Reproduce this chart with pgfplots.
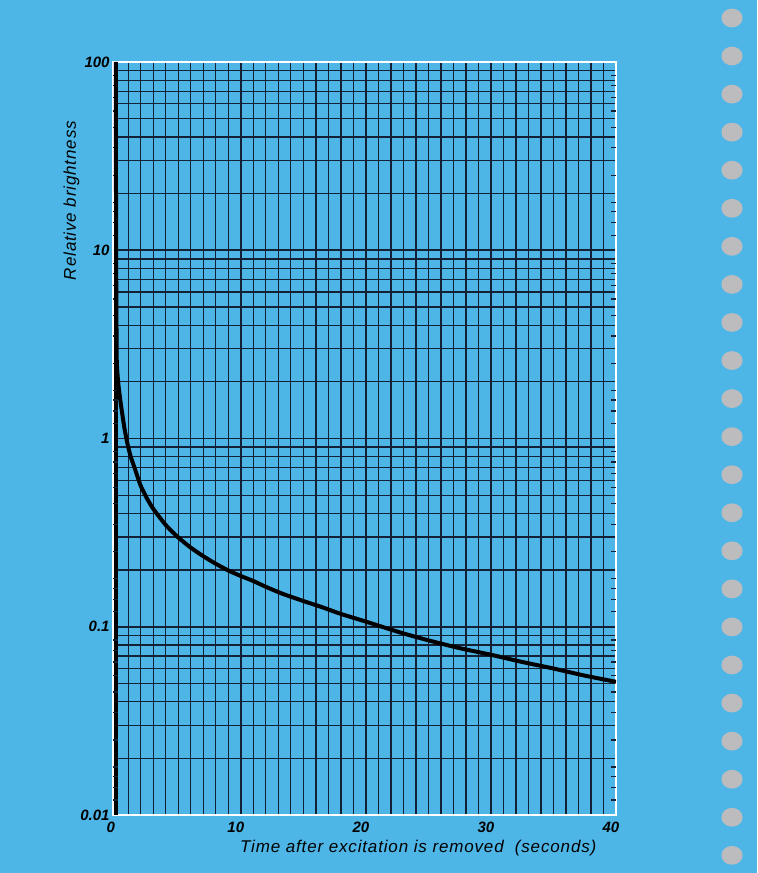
\documentclass[border=0pt]{standalone}
\usepackage{fontspec}
\setmainfont{Liberation Sans}
\newfontfamily\labelfont[LetterSpace=5]{Liberation Sans}
\usepackage{pgfplots}
\pgfplotsset{compat=1.18}

\definecolor{bgblue}{RGB}{78,182,231}
\definecolor{gridline}{RGB}{20,32,52}
\definecolor{holegray}{RGB}{188,188,190}

\begin{document}
\begin{tikzpicture}
% page background and binder holes
\fill[bgblue] (0,0) rectangle (378.5pt,436.5pt);
\foreach \i in {0,...,22}
  \fill[holegray] (366pt,{436.5pt-9pt-\i*19.03pt}) ellipse (5.3pt and 4.7pt);

\begin{axis}[
    at={(56.5pt,29pt)}, anchor=south west,
    scale only axis,
    width=251.5pt, height=376.5pt,
    ymode=log,
    xmin=-0.22, xmax=40,
    ymin=0.01, ymax=100,
    xtick={0,10,20,30,40},
    xticklabels={0,10,20,30,40},
    minor x tick num=9,
    ytick={0.01,0.1,1,10,100},
    yticklabels={0.01,0.1,1,10,100},
    minor ytick={0.02,0.03,0.04,0.05,0.06,0.07,0.08,0.09,
                 0.2,0.3,0.4,0.5,0.6,0.7,0.8,0.9,
                 2,3,4,5,6,7,8,9,
                 20,30,40,50,60,70,80,90},
    grid=both,
    major grid style={gridline, line width=0.9pt},
    minor grid style={gridline, line width=0.65pt},
    major tick length=0pt,
    minor tick length=0pt,
    extra y ticks={0.012,0.014,0.016,0.018,0.025,0.035,0.045,0.055,0.065,0.075,0.085,
                   0.12,0.14,0.16,0.18,0.25,0.35,0.45,0.55,0.65,0.75,0.85,
                   1.2,1.4,1.6,1.8,2.5,3.5,4.5,5.5,6.5,7.5,8.5,
                   12,14,16,18,25,35,45,55,65,75,85},
    extra y tick labels={},
    extra y tick style={grid=none, major tick length=2.4pt,
                        tick style={gridline, line width=0.65pt}},
    extra x ticks={0},
    extra x tick labels={},
    extra x tick style={grid=major, major grid style={black, line width=1.9pt}},
    axis line style={white, line width=1.2pt},
    tick label style={font=\fontsize{7.5}{9}\selectfont\bfseries\itshape},
    x tick label style={xshift=-2.5pt},
    y tick label style={xshift=1.8pt},
    xlabel={Time after excitation is removed\ \ (seconds)},
    ylabel={Relative brightness},
    xlabel style={font=\labelfont\fontsize{8.5}{10}\selectfont\itshape,
                  at={(axis description cs:0.975,0)}, anchor=north east, yshift=-9.2pt},
    ylabel style={font=\labelfont\fontsize{8.5}{10}\selectfont\itshape,
                  at={(axis description cs:-0.074,0.931)}, anchor=base east},
]
\addplot[black, line width=2pt, smooth, tension=0.35] coordinates {
    (0,100) (0.015,30) (0.03,10) (0.05,5) (0.08,2.6) (0.15,2.15) (0.24,1.86)
    (0.42,1.5) (0.69,1.14) (0.95,0.93) (1.2,0.80) (1.5,0.70) (2.0,0.56)
    (2.5,0.48) (3.0,0.423) (4.0,0.347) (5.0,0.298) (6.0,0.263) (7.0,0.237)
    (8.0,0.216) (9.0,0.199) (10,0.186) (11,0.175) (12,0.163) (13.3,0.150)
    (15,0.137) (16.5,0.127) (18,0.117) (19.9,0.107) (22.8,0.093) (25.2,0.084)
    (27.5,0.077) (30,0.071) (32.5,0.065) (35,0.060) (37.5,0.055) (40,0.051)
};
\end{axis}
\pgfresetboundingbox
\useasboundingbox (0,0) rectangle (378.5pt,436.5pt);
\end{tikzpicture}
\end{document}
